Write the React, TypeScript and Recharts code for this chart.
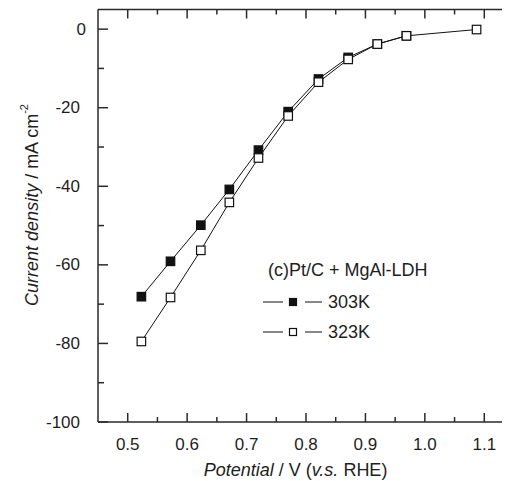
import React from "react";
import { LineChart, Line, XAxis, YAxis, Legend } from "recharts";

const potential303 = [0.523, 0.572, 0.623, 0.671, 0.72, 0.77, 0.821, 0.871, 0.92, 0.969];
const current303 = [-68.1, -59.1, -49.9, -40.8, -30.8, -21.0, -12.7, -7.2, -3.8, -1.7];
const potential323 = [0.523, 0.572, 0.623, 0.671, 0.72, 0.77, 0.821, 0.871, 0.92, 0.969, 1.087];
const current323 = [-79.5, -68.3, -56.3, -44.1, -32.8, -22.1, -13.5, -7.7, -3.8, -1.7, -0.1];

const xTicks = [0.5, 0.55, 0.6, 0.65, 0.7, 0.75, 0.8, 0.85, 0.9, 0.95, 1.0, 1.05, 1.1];
const yTicks = [0, -10, -20, -30, -40, -50, -60, -70, -80, -90, -100];
const seriesNames = ["303K", "323K"];
const legendTitle = "(c)Pt/C + MgAl-LDH";

const data303 = potential303.map((v, i) => ({ v, j: current303[i] }));
const data323 = potential323.map((v, i) => ({ v, j: current323[i] }));

const FONT = "'Liberation Sans', Arial, sans-serif";
const INK = "#1e1e1e";
const AX = "#2a2a2a";

const isMajorX = (v: number) => Math.round(v * 100) % 10 === 0;
const isMajorY = (v: number) => Math.round(Math.abs(v)) % 20 === 0;

const BottomTick = (p: any) => {
  const { x, y, payload } = p;
  const v = payload.value;
  const major = isMajorX(v);
  return (
    <g>
      <line x1={x} x2={x} y1={y} y2={y - (major ? 9 : 5)} stroke={AX} strokeWidth={1.5} />
      {major && (
        <text x={x} y={y + 22} textAnchor="middle" dominantBaseline="central" fontSize={17} fontFamily={FONT} fill={INK}>
          {v.toFixed(1)}
        </text>
      )}
    </g>
  );
};

const TopTick = (p: any) => {
  const { x, y, payload } = p;
  const major = isMajorX(payload.value);
  return <line x1={x} x2={x} y1={y} y2={y + (major ? 9 : 5)} stroke={AX} strokeWidth={1.5} />;
};

const LeftTick = (p: any) => {
  const { x, y, payload } = p;
  const v = payload.value;
  const major = isMajorY(v);
  return (
    <g>
      <line x1={x} x2={x + (major ? 10 : 6)} y1={y} y2={y} stroke={AX} strokeWidth={1.5} />
      {major && (
        <text x={v === 0 ? x - 12 : x - 18} y={y} textAnchor="end" dominantBaseline="central" fontSize={17} fontFamily={FONT} fill={INK}>
          {String(v)}
        </text>
      )}
    </g>
  );
};

const RightTick = (p: any) => {
  const { x, y, payload } = p;
  const major = isMajorY(payload.value);
  return <line x1={x} x2={x - (major ? 10 : 6)} y1={y} y2={y} stroke={AX} strokeWidth={1.5} />;
};

const SquareDot = (filled: boolean, size: number) => (p: any) => {
  const { cx, cy, index } = p;
  if (cx == null || cy == null) return <g key={index} />;
  return (
    <rect
      key={index}
      x={cx - size / 2}
      y={cy - size / 2}
      width={size}
      height={size}
      fill={filled ? "#111" : "#fff"}
      stroke="#111"
      strokeWidth={1.2}
    />
  );
};

const LegendContent = () => (
  <svg width={200} height={100} style={{ display: "block" }}>
    <text x={5} y={20} dominantBaseline="central" fontSize={18} fontFamily={FONT} fill={INK}>
      {legendTitle}
    </text>
    {seriesNames.map((name, i) => {
      const cy = 52 + i * 30;
      return (
        <g key={name}>
          <line x1={0} x2={20} y1={cy} y2={cy} stroke="#111" strokeWidth={1} />
          <rect x={26.5} y={cy - 3.5} width={7} height={7} fill={i === 0 ? "#111" : "#fff"} stroke="#111" strokeWidth={1.2} />
          <line x1={42} x2={59} y1={cy} y2={cy} stroke="#111" strokeWidth={1} />
          <text x={65} y={cy} dominantBaseline="central" fontSize={18} fontFamily={FONT} fill={INK}>
            {name}
          </text>
        </g>
      );
    })}
  </svg>
);

export default function App() {
  const axisLine = { stroke: AX, strokeWidth: 1.5 };
  return (
    <div style={{ position: "relative", width: 502, height: 473, overflow: "hidden" }}>
      <LineChart
        width={520}
        height={473}
        margin={{ top: 0.5, left: 89, right: 13, bottom: 58 }}
        style={{ fontFamily: FONT }}
      >
        <XAxis
          xAxisId="b"
          type="number"
          dataKey="v"
          domain={[0.45, 1.15]}
          allowDataOverflow
          ticks={xTicks}
          interval={0}
          height={1}
          tickSize={0}
          tickMargin={0}
          tickLine={false}
          axisLine={axisLine}
          tick={<BottomTick />}
        />
        <XAxis
          xAxisId="t"
          orientation="top"
          type="number"
          dataKey="v"
          domain={[0.45, 1.15]}
          allowDataOverflow
          ticks={xTicks}
          interval={0}
          height={1}
          tickSize={0}
          tickMargin={0}
          tickLine={false}
          axisLine={axisLine}
          tick={<TopTick />}
        />
        <YAxis
          yAxisId="l"
          type="number"
          domain={[-100, 5]}
          allowDataOverflow
          ticks={yTicks}
          interval={0}
          width={1}
          tickSize={0}
          tickMargin={0}
          tickLine={false}
          axisLine={axisLine}
          tick={<LeftTick />}
        />
        <YAxis
          yAxisId="r"
          orientation="right"
          type="number"
          domain={[-100, 5]}
          allowDataOverflow
          ticks={yTicks}
          interval={0}
          width={1}
          tickSize={0}
          tickMargin={0}
          tickLine={false}
          axisLine={axisLine}
          tick={<RightTick />}
        />
        <Legend
          layout="horizontal"
          verticalAlign="middle"
          align="center"
          content={<LegendContent />}
          wrapperStyle={{ position: "absolute", left: 255, top: 242, width: 200, height: 100 }}
        />
        <Line
          xAxisId="b"
          yAxisId="l"
          data={data303}
          dataKey="j"
          name={seriesNames[0]}
          stroke="#111"
          strokeWidth={1}
          dot={SquareDot(true, 8.5)}
          activeDot={false}
          isAnimationActive={false}
        />
        <Line
          xAxisId="b"
          yAxisId="l"
          data={data323}
          dataKey="j"
          name={seriesNames[1]}
          stroke="#111"
          strokeWidth={1}
          dot={SquareDot(false, 8.5)}
          activeDot={false}
          isAnimationActive={false}
        />
      </LineChart>
      <svg width={502} height={473} style={{ position: "absolute", left: 0, top: 0, pointerEvents: "none" }}>
        <text x={287.5} y={462} textAnchor="middle" dominantBaseline="central" fontSize={18} fontFamily={FONT} fill={INK}>
          <tspan fontStyle="italic">Potential</tspan>
          <tspan> / V (</tspan>
          <tspan fontStyle="italic">v.s.</tspan>
          <tspan> RHE)</tspan>
        </text>
        <text
          x={24}
          y={197}
          transform="rotate(-90 24 197)"
          textAnchor="middle"
          dominantBaseline="central"
          fontSize={18}
          fontFamily={FONT}
          fill={INK}
        >
          <tspan fontStyle="italic">Current density</tspan>
          <tspan> / mA cm</tspan>
          <tspan dy={-8} fontSize={11}>-2</tspan>
        </text>
      </svg>
    </div>
  );
}
